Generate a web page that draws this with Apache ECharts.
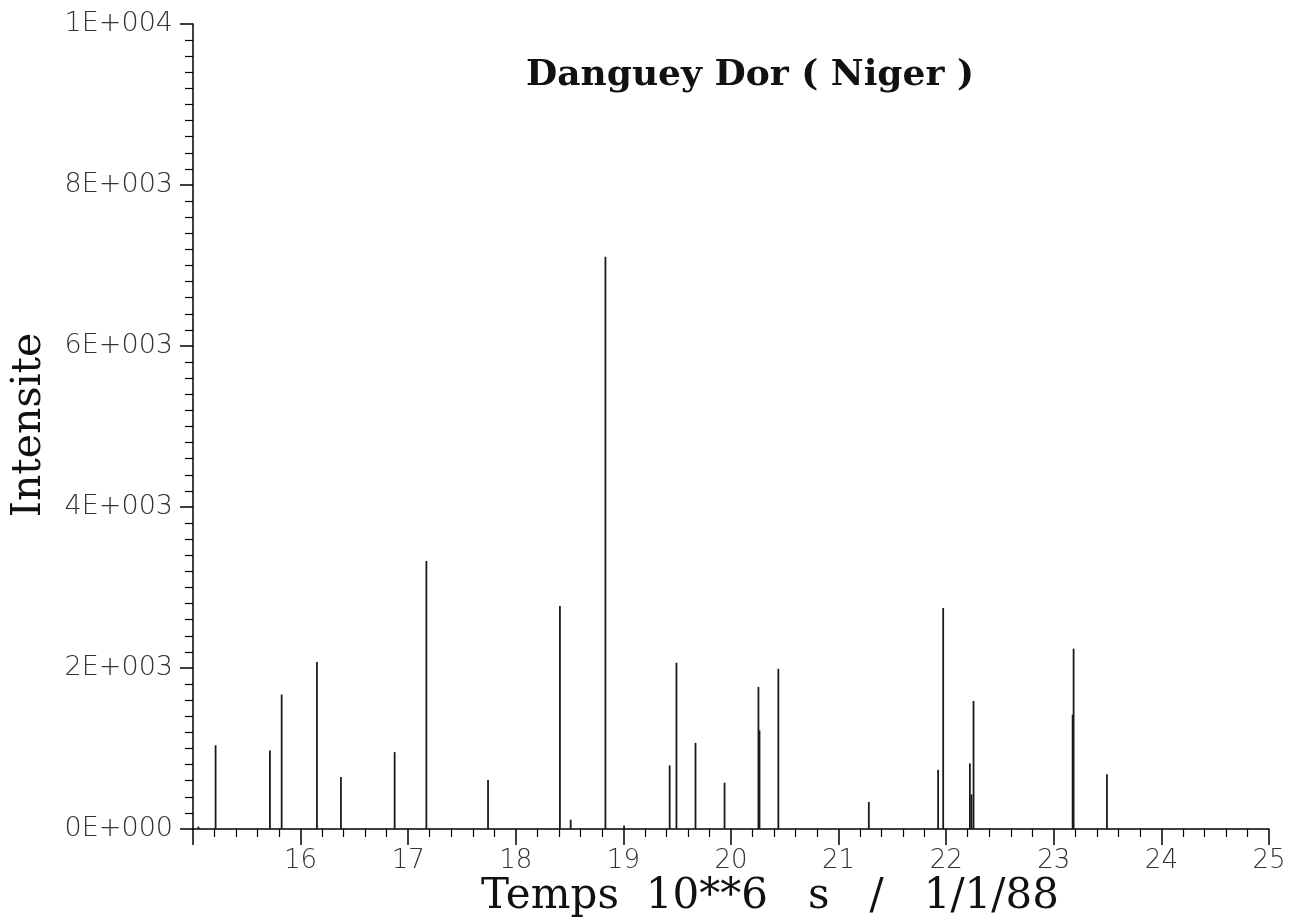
<!DOCTYPE html>
<html>
<head>
<meta charset="utf-8">
<script src="https://cdn.jsdelivr.net/npm/echarts@6/dist/echarts.min.js"></script>
<style>
html,body{margin:0;padding:0;background:#fff;}
#chart{width:1295px;height:920px;}
</style>
</head>
<body>
<div id="chart"></div>
<script>
// Spike times (10**6 s since 1/1/88) and intensities
var spikeTimes = [15.05, 15.21, 15.715, 15.824, 16.152, 16.375, 16.874, 17.169, 17.742,
  18.41, 18.51, 18.833, 19.006, 19.43, 19.493, 19.67, 19.94, 20.255, 20.265, 20.44,
  21.281, 21.925, 21.972, 22.22, 22.235, 22.254, 23.175, 23.184, 23.494];
var spikeIntensities = [30, 1040, 975, 1670, 2075, 645, 955, 3330, 610,
  2770, 115, 7110, 45, 790, 2065, 1070, 575, 1765, 1225, 1990,
  335, 735, 2745, 815, 430, 1590, 1420, 2240, 680];
var xTickLabels = ['', '16', '17', '18', '19', '20', '21', '22', '23', '24', '25'];
var yTickLabels = ['0E+000', '2E+003', '4E+003', '6E+003', '8E+003', '1E+004'];

var data = spikeTimes.map(function (t, i) { return [t, spikeIntensities[i]]; });

var chart = echarts.init(document.getElementById('chart'));
var labelFont = '"DejaVu Sans", sans-serif';
chart.setOption({
  backgroundColor: '#fff',
  animation: false,
  grid: { left: 193, right: 26, top: 24, bottom: 91, containLabel: false },
  xAxis: {
    type: 'value', min: 15, max: 25, interval: 1,
    axisLine: { show: true, onZero: false, lineStyle: { color: '#000', width: 1.5 } },
    axisTick: { show: true, inside: false, length: 16, lineStyle: { color: '#000', width: 1.5 } },
    minorTick: { show: true, splitNumber: 5, length: 8, lineStyle: { color: '#000', width: 1.2 } },
    splitLine: { show: false },
    axisLabel: {
      margin: 19, fontSize: 26, fontFamily: labelFont, fontWeight: 200, color: '#333',
      formatter: function (v) { return xTickLabels[Math.round(v - 15)]; }
    }
  },
  yAxis: {
    type: 'value', min: 0, max: 10000, interval: 2000,
    axisLine: { show: true, lineStyle: { color: '#000', width: 1.5 } },
    axisTick: { show: true, inside: false, length: 13, lineStyle: { color: '#000', width: 1.5 } },
    minorTick: { show: true, splitNumber: 10, length: 8, lineStyle: { color: '#000', width: 1.2 } },
    splitLine: { show: false },
    axisLabel: {
      margin: 20, fontSize: 27, fontFamily: labelFont, fontWeight: 200, color: '#333',
      formatter: function (v) { return yTickLabels[Math.round(v / 2000)]; }
    }
  },
  series: [{
    type: 'bar',
    data: data,
    barWidth: 1.8,
    itemStyle: { color: '#1a1a1a' },
    silent: true
  }],
  graphic: [
    { type: 'text', x: 750, y: 76,
      style: { text: 'Danguey Dor ( Niger )', font: 'bold 36px "DejaVu Serif", serif', fill: '#111',
        align: 'center', verticalAlign: 'middle', textAlign: 'center', textVerticalAlign: 'middle' } },
    { type: 'text', x: 770, y: 897,
      style: { text: 'Temps  10**6   s   /   1/1/88', font: '42px "DejaVu Serif", serif', fill: '#111',
        align: 'center', verticalAlign: 'middle', textAlign: 'center', textVerticalAlign: 'middle' } },
    { type: 'text', x: 29, y: 425, rotation: Math.PI / 2,
      style: { text: 'Intensite', font: '41px "DejaVu Serif", serif', fill: '#111',
        align: 'center', verticalAlign: 'middle', textAlign: 'center', textVerticalAlign: 'middle' } }
  ]
});
</script>
</body>
</html>
